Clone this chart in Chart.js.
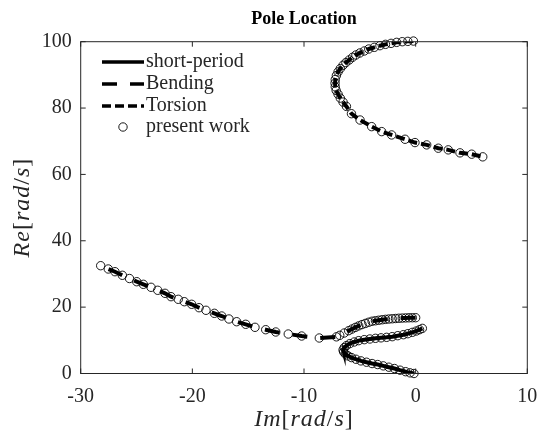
<!DOCTYPE html>
<html>
<head>
<meta charset="utf-8">
<script src="https://cdn.jsdelivr.net/npm/chart.js@4.4.1/dist/chart.umd.min.js"></script>
<style>
  html, body { margin: 0; padding: 0; background: #fff; }
  #wrap { width: 539px; height: 435px; }
</style>
</head>
<body>
<div id="wrap"><canvas id="poles"></canvas></div>
<script>
// pole branches, x = imaginary part, y = real part (rad/s)
const shortPeriodIm = [0.6, 0.35, 0.05, -0.3, -0.7, -1.1, -1.6, -2.1, -2.6, -3.1, -3.6, -4.1, -4.6, -5.1, -5.5, -5.9, -6.2, -6.4, -6.5, -6.45, -6.3, -6.05, -5.75, -5.35, -4.9, -4.4, -3.9, -3.4, -2.9, -2.4, -1.9, -1.4, -0.9, -0.5, -0.15];
const shortPeriodRe = [13.6, 13.2, 12.8, 12.4, 12.0, 11.7, 11.4, 11.1, 10.9, 10.75, 10.6, 10.4, 10.2, 9.9, 9.5, 9.0, 8.4, 7.8, 7.1, 6.5, 5.9, 5.3, 4.8, 4.3, 3.8, 3.4, 3.0, 2.7, 2.3, 1.9, 1.5, 1.0, 0.55, 0.2, 0.0];

const bendingIm = [0.0, -0.3, -0.6, -0.9, -1.2, -1.5, -1.8, -2.1, -2.4, -2.7, -3.0, -3.3, -3.6, -3.9, -4.2, -4.5, -4.8, -5.1, -5.4, -5.7, -6.0, -6.4, -6.8, -7.1,
  -8.63, -10.21, -11.41, -12.53, -13.43, -14.39, -15.22, -16.03, -16.72, -17.37, -18.03, -18.78, -19.40, -20.06, -20.72, -21.26, -21.91, -22.45, -23.10, -23.70, -24.39, -24.98, -25.63, -26.27, -26.93, -27.53, -28.21];
const bendingRe = [16.82, 16.81, 16.79, 16.75, 16.7, 16.65, 16.58, 16.5, 16.42, 16.32, 16.2, 16.05, 15.9, 15.75, 15.45, 15.1, 14.75, 14.35, 13.9, 13.4, 12.9, 12.2, 11.5, 11.05,
  10.7, 11.3, 11.9, 12.51, 13.2, 13.92, 14.83, 15.61, 16.43, 17.33, 18.14, 19.05, 19.83, 20.86, 21.64, 22.36, 23.15, 24.17, 25.08, 25.98, 26.88, 27.67, 28.63, 29.6, 30.68, 31.5, 32.49];

const torsionIm = [-0.2, -0.7, -1.2, -1.7, -2.2, -2.7, -3.2, -3.7, -4.2, -4.6, -5.0, -5.35, -5.65, -5.95, -6.25, -6.5, -6.75, -6.95, -7.1, -7.2, -7.22, -7.2, -7.12, -6.95, -6.75, -6.5, -6.2, -5.75, -4.98, -3.94, -3.04, -2.15, -0.95, -0.06, 0.99, 2.03, 2.92, 3.97, 5.02, 6.01];
const torsionRe = [100.2, 100.1, 100.0, 99.8, 99.5, 99.2, 98.8, 98.3, 97.8, 97.2, 96.6, 96.0, 95.3, 94.5, 93.7, 92.9, 91.9, 90.9, 89.8, 88.6, 87.5, 86.4, 85.3, 84.2, 83.0, 81.8, 80.5, 78.3, 76.4, 74.4, 72.9, 71.9, 70.6, 69.6, 68.9, 67.9, 67.4, 66.5, 66.1, 65.3];

const xTicks = [-30, -20, -10, 0, 10];
const yTicks = [0, 20, 40, 60, 80, 100];
const seriesNames = ['short-period', 'Bending', 'Torsion'];
const markerName = 'present work';
const chartTitle = 'Pole Location';

const toPoints = (xs, ys) => xs.map((x, i) => ({ x, y: ys[i] }));

const SERIF = '"Liberation Serif", "DejaVu Serif", serif';
const INK = '#262626';
const dashes = [[], [15, 13], [9, 4]];
const branches = [
  toPoints(shortPeriodIm, shortPeriodRe),
  toPoints(bendingIm, bendingRe),
  toPoints(torsionIm, torsionRe)
];

const datasets = [];
branches.forEach((data, i) => {
  datasets.push({
    label: seriesNames[i],
    data,
    showLine: true,
    borderColor: '#000',
    borderWidth: 4,
    borderDash: dashes[i],
    pointRadius: 0,
    order: 2
  });
});
branches.forEach(data => {
  datasets.push({
    label: markerName,
    data,
    showLine: false,
    pointRadius: 4.2,
    pointBorderWidth: 0.9,
    pointBorderColor: '#000',
    pointBackgroundColor: 'rgba(0,0,0,0)',
    clip: false,
    order: 1
  });
});

// text made of italic and upright pieces, like a math label
function mathText(ctx, parts, size, gap) {
  const fonts = parts.map(p => (p[1] ? 'italic ' : '') + size + 'px ' + SERIF);
  let w = 0;
  const widths = parts.map((p, i) => {
    ctx.font = fonts[i];
    const m = ctx.measureText(p[0]).width + gap * p[0].length;
    w += m;
    return m;
  });
  let x = -w / 2;
  parts.forEach((p, i) => {
    ctx.font = fonts[i];
    let cx = x;
    for (const ch of p[0]) {
      ctx.fillText(ch, cx, 0);
      cx += ctx.measureText(ch).width + gap;
    }
    x += widths[i];
  });
}

const framePlugin = {
  id: 'frame',
  afterDraw(chart) {
    const { ctx, chartArea: a, scales } = chart;
    const midX = (a.left + a.right) / 2;
    ctx.save();
    ctx.strokeStyle = INK;
    ctx.lineWidth = 1;
    ctx.setLineDash([]);
    ctx.strokeRect(a.left, a.top, a.right - a.left, a.bottom - a.top);

    // inward tick marks on all four sides
    const tl = 5;
    ctx.beginPath();
    scales.x.ticks.forEach(t => {
      const px = scales.x.getPixelForValue(t.value);
      ctx.moveTo(px, a.bottom); ctx.lineTo(px, a.bottom - tl);
      ctx.moveTo(px, a.top); ctx.lineTo(px, a.top + tl);
    });
    scales.y.ticks.forEach(t => {
      const py = scales.y.getPixelForValue(t.value);
      ctx.moveTo(a.left, py); ctx.lineTo(a.left + tl, py);
      ctx.moveTo(a.right, py); ctx.lineTo(a.right - tl, py);
    });
    ctx.stroke();

    // title over the plot box
    ctx.fillStyle = '#000';
    ctx.textBaseline = 'middle';
    ctx.textAlign = 'center';
    ctx.font = 'bold 18px ' + SERIF;
    ctx.fillText(chartTitle, midX, 19);

    // axis labels
    ctx.fillStyle = INK;
    ctx.textAlign = 'left';
    const labelX = [['Im', true], ['[', false], ['rad', true], ['/', false], ['s', true], [']', false]];
    const labelY = [['Re', true], ['[', false], ['rad', true], ['/', false], ['s', true], [']', false]];
    ctx.save();
    ctx.translate(midX, 420);
    mathText(ctx, labelX, 24, 1);
    ctx.restore();
    ctx.save();
    ctx.translate(23, (a.top + a.bottom) / 2);
    ctx.rotate(-Math.PI / 2);
    mathText(ctx, labelY, 24, 1);
    ctx.restore();

    // legend in the upper left corner
    const lx0 = 102, lx1 = 144, rowY = [62, 84, 106, 127];
    ctx.font = '20px ' + SERIF;
    ctx.strokeStyle = '#000';
    seriesNames.forEach((name, i) => {
      ctx.lineWidth = 3.5;
      ctx.setLineDash(dashes[i]);
      ctx.beginPath();
      ctx.moveTo(lx0, rowY[i]); ctx.lineTo(lx1, rowY[i]);
      ctx.stroke();
      ctx.fillText(name, lx1 + 2, rowY[i]);
    });
    ctx.setLineDash([]);
    ctx.lineWidth = 0.9;
    ctx.beginPath();
    ctx.arc((lx0 + lx1) / 2, rowY[3], 4.2, 0, Math.PI * 2);
    ctx.stroke();
    ctx.fillText(markerName, lx1 + 2, rowY[3]);
    ctx.restore();
  }
};

new Chart(document.getElementById('poles'), {
  type: 'scatter',
  data: { datasets },
  options: {
    responsive: true,
    maintainAspectRatio: false,
    animation: false,
    layout: { padding: { left: 0, right: 11.7, top: 41.7, bottom: 0 } },
    plugins: {
      legend: { display: false },
      tooltip: { enabled: false },
      title: { display: false }
    },
    scales: {
      x: {
        min: -30, max: 10,
        grid: { display: false, drawTicks: false },
        border: { display: false },
        afterBuildTicks: s => { s.ticks = xTicks.map(v => ({ value: v })); },
        afterFit: s => { s.height = 61.5; s.paddingLeft = 0; s.paddingRight = 0; },
        ticks: { color: INK, padding: 11, maxRotation: 0, font: { family: SERIF, size: 20 } }
      },
      y: {
        min: 0, max: 100,
        grid: { display: false, drawTicks: false },
        border: { display: false },
        afterBuildTicks: s => { s.ticks = yTicks.map(v => ({ value: v })); },
        afterFit: s => { s.width = 80.7; s.paddingTop = 0; s.paddingBottom = 0; },
        ticks: { color: INK, padding: 9, font: { family: SERIF, size: 20 } }
      }
    }
  },
  plugins: [framePlugin]
});
</script>
</body>
</html>
